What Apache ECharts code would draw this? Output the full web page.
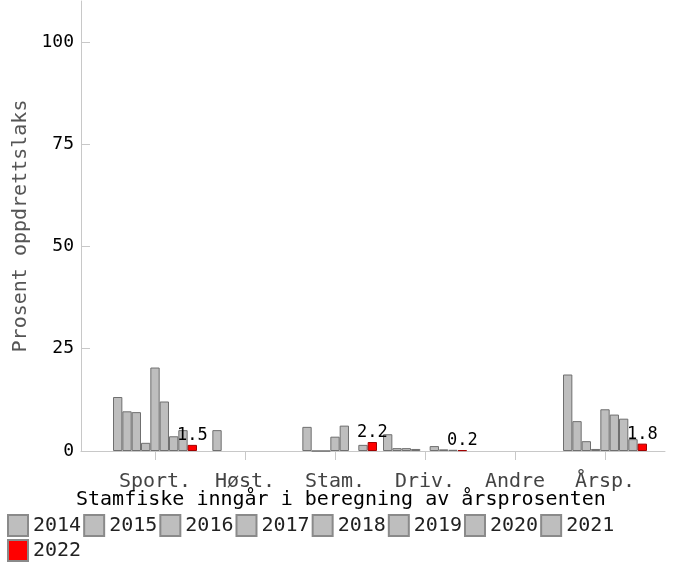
<!DOCTYPE html>
<html>
<head>
<meta charset="utf-8">
<script src="https://cdn.jsdelivr.net/npm/echarts@6/dist/echarts.min.js"></script>
<style>
html,body{margin:0;padding:0;background:#fff;}
#c{width:674px;height:566px;}
</style>
</head>
<body>
<div id="c"></div>
<script>
const categories = ['Sport.', 'Høst.', 'Stam.', 'Driv.', 'Andre', 'Årsp.'];
const years = ['2014','2015','2016','2017','2018','2019','2020','2021','2022'];
const v2014 = [13.2, null, null, 4.1, null, 18.7];
const v2015 = [9.7, 5.1, 5.9, 0.7, null, 7.3];
const v2016 = [9.5, null, 0, 0.7, null, 2.4];
const v2017 = [2.0, null, 0, 0.5, null, 0.5];
const v2018 = [20.4, null, 3.5, null, null, 10.2];
const v2019 = [12.1, null, 6.2, 1.2, null, 8.9];
const v2020 = [3.6, null, null, 0.4, null, 7.9];
const v2021 = [5.1, null, 1.5, 0.3, null, 2.9];
const v2022 = [1.5, null, 2.2, 0.2, null, 1.8];
const yTicks = [0, 25, 50, 75, 100];
const yName = 'Prosent oppdrettslaks';
const xTitle = 'Stamfiske inngår i beregning av årsprosenten';

const values = [v2014, v2015, v2016, v2017, v2018, v2019, v2020, v2021, v2022];
const FONT = 'DejaVu Sans Mono';
const chart = echarts.init(document.getElementById('c'));

const series = years.map((y, i) => {
  const last = i === years.length - 1;
  return {
    name: y,
    type: 'bar',
    xAxisIndex: 1,
    yAxisIndex: 1,
    data: values[i],
    barGap: '0%',
    barCategoryGap: '6.7%',
    itemStyle: last ? {color: '#ff0000', borderColor: '#a00000', borderWidth: 1}
                    : {color: '#bebebe', borderColor: '#6f6f6f', borderWidth: 1},
    label: last ? {
      show: true, position: 'top', distance: 1,
      fontFamily: FONT, fontSize: 17, color: '#000',
      formatter: p => (p.value == null ? '' : p.value.toFixed(1))
    } : {show: false},
    animation: false
  };
});

chart.setOption({
  animation: false,
  textStyle: {fontFamily: FONT},
  title: {
    text: xTitle, left: 71, top: 485,
    textStyle: {fontFamily: FONT, fontSize: 20, fontWeight: 'normal', color: '#000'}
  },
  legend: {
    data: years,
    left: 2, top: 509, width: 620,
    itemWidth: 20, itemHeight: 21, itemGap: 2,
    icon: 'rect',
    itemStyle: {borderColor: '#8a8a8a'},
    textStyle: {fontFamily: FONT, fontSize: 20, color: '#222'}
  },
  grid: [
    {left: 81, right: 9, top: 1, bottom: 115},
    {left: 110, width: 540, top: 1, bottom: 115}
  ],
  xAxis: [
    {type: 'value', gridIndex: 0, min: 0, max: 1, offset: 3,
     axisLine: {show: true, lineStyle: {color: '#c8c8c8', width: 1}},
     axisTick: {show: false}, axisLabel: {show: false}, splitLine: {show: false}},
    {type: 'category', gridIndex: 1, data: categories, offset: 4,
     axisLine: {show: false},
     axisTick: {show: true, alignWithLabel: true, length: 9, interval: 0, lineStyle: {color: '#c8c8c8'}},
     axisLabel: {fontFamily: FONT, fontSize: 20, color: '#444', margin: 17, interval: 0},
     splitLine: {show: false}}
  ],
  yAxis: [
    {type: 'value', gridIndex: 0, min: 0, max: 110, interval: 25,
     name: yName, nameLocation: 'middle', nameGap: 48,
     nameTextStyle: {fontFamily: FONT, fontSize: 20, color: '#555'},
     axisLine: {show: true, lineStyle: {color: '#c8c8c8'}},
     axisTick: {show: true, inside: true, length: 9, customValues: yTicks, lineStyle: {color: '#c8c8c8'}},
     axisLabel: {fontFamily: FONT, fontSize: 18, color: '#000', margin: 7, customValues: yTicks},
     splitLine: {show: false}},
    {type: 'value', gridIndex: 1, min: 0, max: 110, show: false}
  ],
  series: series
});
</script>
</body>
</html>
